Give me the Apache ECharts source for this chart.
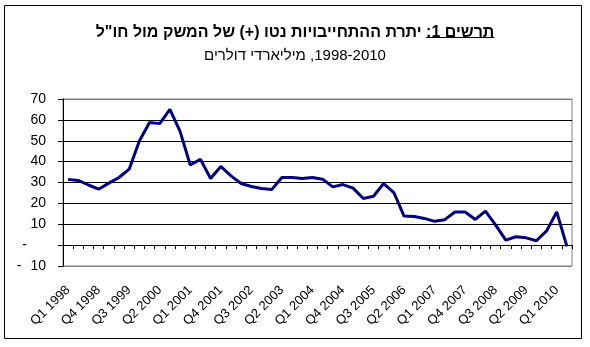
<!DOCTYPE html>
<html>
<head>
<meta charset="utf-8">
<script src="https://cdn.jsdelivr.net/npm/echarts@6/dist/echarts.min.js"></script>
<style>
html,body{margin:0;padding:0;background:#fff;}
#chart{width:590px;height:347px;}
</style>
</head>
<body>
<div id="chart"></div>
<script>
var titleUnderlined = 'תרשים 1:';
var titleRest = 'יתרת ההתחייבויות נטו (+) של המשק מול חו"ל';
var subtitleText = '1998-2010, מיליארדי דולרים';

var categories = [
  'Q1 1998','Q2 1998','Q3 1998','Q4 1998',
  'Q1 1999','Q2 1999','Q3 1999','Q4 1999',
  'Q1 2000','Q2 2000','Q3 2000','Q4 2000',
  'Q1 2001','Q2 2001','Q3 2001','Q4 2001',
  'Q1 2002','Q2 2002','Q3 2002','Q4 2002',
  'Q1 2003','Q2 2003','Q3 2003','Q4 2003',
  'Q1 2004','Q2 2004','Q3 2004','Q4 2004',
  'Q1 2005','Q2 2005','Q3 2005','Q4 2005',
  'Q1 2006','Q2 2006','Q3 2006','Q4 2006',
  'Q1 2007','Q2 2007','Q3 2007','Q4 2007',
  'Q1 2008','Q2 2008','Q3 2008','Q4 2008',
  'Q1 2009','Q2 2009','Q3 2009','Q4 2009',
  'Q1 2010','Q2 2010'
];

var netLiabilities = [
  31.5, 31, 28.8, 26.8, 29.7, 32.4, 36.4, 49.9, 58.7, 58.2,
  65, 54.5, 38.4, 41.1, 31.9, 37.7, 33.2, 29.5, 28.1, 27.1,
  26.6, 32.4, 32.4, 31.9, 32.4, 31.6, 27.9, 29, 27.3, 22.3,
  23.4, 29.5, 25.2, 13.9, 13.7, 12.8, 11.4, 12.2, 15.9, 15.9,
  12.3, 16.3, 9.6, 2.4, 4, 3.5, 2.1, 6.8, 15.9, -0.6
];

var yMin = -10, yMax = 70, yStep = 10;

var FONT = '"Liberation Sans", Arial, "DejaVu Sans", sans-serif';
var RLE = '\u202B', PDF = '\u202C';

var chart = echarts.init(document.getElementById('chart'), null, {renderer: 'canvas'});

var splitColors = [];
for (var k = 0; k <= (yMax - yMin) / yStep; k++) {
  splitColors.push(k === 0 || k === (yMax - yMin) / yStep ? '#808080' : '#000000');
}

var option = {
  backgroundColor: '#ffffff',
  animation: false,
  title: [
    {
      text: RLE + titleUnderlined + ' ' + titleRest + PDF,
      left: 'center',
      top: 20,
      textStyle: {fontFamily: FONT, fontSize: 16, fontWeight: 'bold', color: '#000'}
    },
    {
      text: RLE + subtitleText + PDF,
      left: 'center',
      top: 43,
      textStyle: {fontFamily: FONT, fontSize: 15, fontWeight: 'normal', color: '#000'}
    }
  ],
  grid: {
    left: 63, right: 18, top: 99, bottom: 81,
    show: true, borderColor: '#808080', borderWidth: 1, backgroundColor: 'transparent'
  },
  xAxis: {
    type: 'category',
    data: categories,
    boundaryGap: true,
    axisLine: {onZero: true, lineStyle: {color: '#000', width: 1}},
    axisTick: {show: true, interval: 0, length: 4, inside: false, lineStyle: {color: '#000'}},
    axisLabel: {
      interval: 2, rotate: 45, margin: 22,
      fontFamily: FONT, fontSize: 13, color: '#000'
    },
    splitLine: {show: false}
  },
  yAxis: {
    type: 'value',
    min: yMin, max: yMax, interval: yStep,
    axisLine: {show: true, lineStyle: {color: '#000', width: 1}},
    axisTick: {show: true, length: 5, lineStyle: {color: '#000'}},
    axisLabel: {
      margin: 17,
      fontFamily: FONT, fontSize: 14, color: '#000',
      formatter: function (v) {
        if (v === 0) return '{z|-}';
        if (v < 0) return '{d|-}' + Math.abs(v);
        return String(v);
      },
      rich: {
        z: {fontFamily: FONT, fontSize: 14, color: '#000', padding: [0, 19, 0, 0]},
        d: {fontFamily: FONT, fontSize: 14, color: '#000', padding: [0, 9, 0, 0]}
      }
    },
    splitLine: {show: true, lineStyle: {color: splitColors, width: 1}}
  },
  series: [{
    type: 'line',
    data: netLiabilities,
    symbol: 'none',
    smooth: false,
    lineStyle: {color: '#000080', width: 3},
    z: 5
  }]
};
chart.setOption(option);

// underline beneath the "תרשים 1:" part of the title (rightmost in RTL)
var mc = document.createElement('canvas').getContext('2d');
mc.font = 'bold 16px ' + FONT;
var fullW = mc.measureText(RLE + titleUnderlined + ' ' + titleRest + PDF).width;
var partW = mc.measureText(RLE + titleUnderlined + PDF).width;
var cx = 295;
var rightEnd = cx + fullW / 2;
chart.setOption({
  graphic: [
    {
      type: 'rect', silent: true,
      shape: {x: 4.5, y: 5.5, width: 577, height: 333},
      style: {fill: 'none', stroke: '#000', lineWidth: 1}
    },
    {
      type: 'line', silent: true,
      shape: {x1: rightEnd - partW, y1: 37.5, x2: rightEnd, y2: 37.5},
      style: {stroke: '#000', lineWidth: 1}
    }
  ]
});
</script>
</body>
</html>
